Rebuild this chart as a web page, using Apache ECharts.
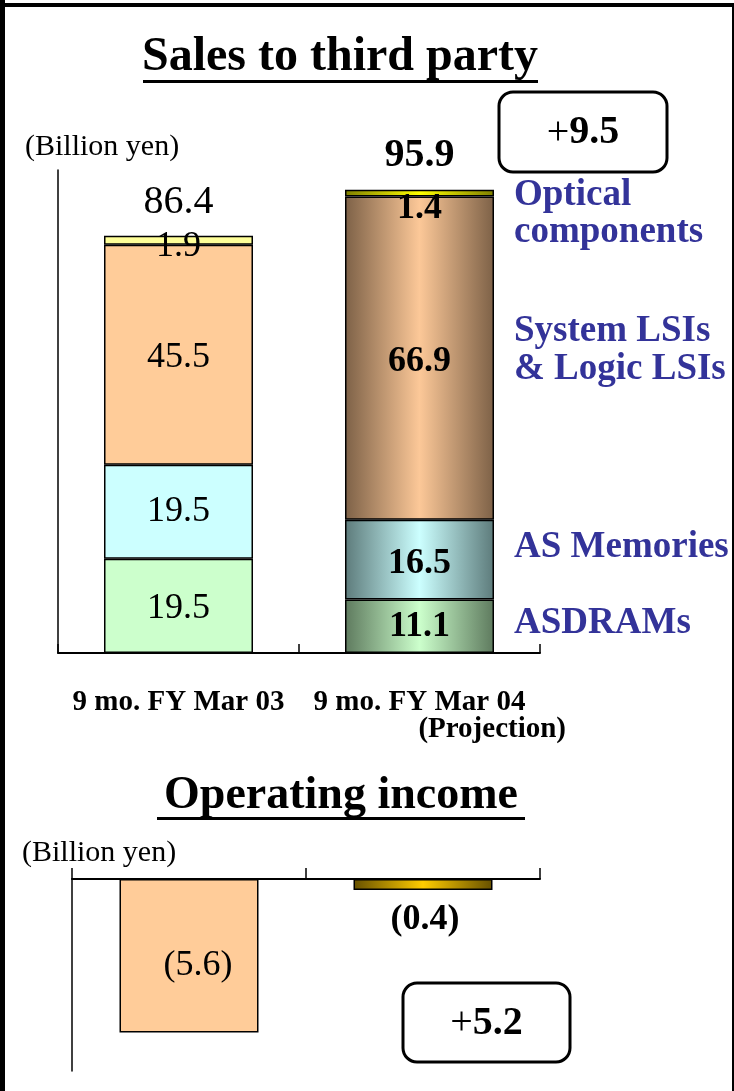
<!DOCTYPE html>
<html>
<head>
<meta charset="utf-8"/>
<title>Sales to third party</title>
<script src="https://cdn.jsdelivr.net/npm/echarts@6/dist/echarts.min.js"></script>
<style>
  body { margin: 0; background: #fff; }
  #main { width: 734px; height: 1091px; }
</style>
</head>
<body>
<div id="main"></div>
<script>
// 数据
var categories = ['9 mo. FY Mar 03', '9 mo. FY Mar 04'];
var asdrams    = [19.5, 11.1];
var asMemories = [19.5, 16.5];
var systemLsis = [45.5, 66.9];
var optical    = [1.9, 1.4];
var totals     = [86.4, 95.9];
var salesChange = '9.5';

var incomeCats = ['9 mo. FY Mar 03', '9 mo. FY Mar 04'];
var income     = [-5.6, -0.4];
var incomeChange = '5.2';

var FONT = 'Liberation Serif';

// 第二根柱子用横向渐变
function grad(dark, light) {
  return {
    type: 'linear', x: 0, y: 0, x2: 1, y2: 0,
    colorStops: [
      {offset: 0, color: dark},
      {offset: 0.5, color: light},
      {offset: 1, color: dark}
    ]
  };
}

function stackData(vals, flat, dark, light, lblOffsets) {
  return vals.map(function (v, i) {
    var item = {
      value: v,
      itemStyle: {color: i === 0 ? flat : grad(dark, light)},
      label: {fontWeight: i === 0 ? 'normal' : 'bold'}
    };
    if (lblOffsets) item.label.offset = lblOffsets[i];
    return item;
  });
}

var barLabel = {
  show: true, position: 'inside', color: '#000',
  fontFamily: FONT, fontSize: 36
};

// 圆角框里的 "+x.x"，加号不加粗
function changeBox(x, y, w, h, txt) {
  return [
    {type: 'rect', shape: {x: x, y: y, width: w, height: h, r: 14},
      style: {fill: '#fff', stroke: '#000', lineWidth: 3}},
    {type: 'text', x: x + w / 2, y: y + h / 2 + 1, style: {
      text: '{p|+}{n|' + txt + '}', textAlign: 'center', textVerticalAlign: 'middle',
      rich: {
        p: {fontFamily: FONT, fontSize: 40, fill: '#000'},
        n: {fontFamily: FONT, fontSize: 40, fontWeight: 'bold', fill: '#000'}
      }
    }}
  ];
}

var myChart = echarts.init(document.getElementById('main'));

var option = {
  backgroundColor: '#fff',
  animation: false,
  grid: [
    {left: 58, top: 170, width: 482, height: 483},
    {left: 72, top: 879, width: 468, height: 192}
  ],
  xAxis: [
    {
      type: 'category', gridIndex: 0, data: categories,
      axisLine: {lineStyle: {color: '#000', width: 2}},
      axisTick: {show: true, interval: 0, inside: true, length: 9,
        lineStyle: {color: '#000', width: 1.5}},
      axisLabel: {
        interval: 0, margin: 35, color: '#000',
        fontFamily: FONT, fontWeight: 'bold', fontSize: 29
      }
    },
    {
      type: 'category', gridIndex: 1, data: incomeCats, position: 'top',
      axisLine: {onZero: false, lineStyle: {color: '#000', width: 2}},
      axisTick: {show: true, interval: 0, length: 11,
        lineStyle: {color: '#000', width: 1.5}},
      axisLabel: {show: false}
    }
  ],
  yAxis: [
    {
      type: 'value', gridIndex: 0, min: 0, max: 100,
      axisLine: {show: true, lineStyle: {color: '#000', width: 1.5}},
      axisTick: {show: false}, axisLabel: {show: false}, splitLine: {show: false}
    },
    {
      type: 'value', gridIndex: 1, min: -7, max: 0,
      axisLine: {show: true, lineStyle: {color: '#000', width: 1.5}},
      axisTick: {show: false}, axisLabel: {show: false}, splitLine: {show: false}
    }
  ],
  series: [
    {
      name: 'ASDRAMs', type: 'bar', stack: 'sales', barWidth: 149,
      itemStyle: {borderColor: '#000', borderWidth: 1.5},
      label: barLabel,
      data: stackData(asdrams, '#ccffcc', '#5e7a5e', '#ccffcc', [[0, 3], [0, 1]])
    },
    {
      name: 'AS Memories', type: 'bar', stack: 'sales', barWidth: 149,
      itemStyle: {borderColor: '#000', borderWidth: 1.5},
      label: barLabel,
      data: stackData(asMemories, '#ccffff', '#5d7b7b', '#ccffff', [[0, 0], [0, 4]])
    },
    {
      name: 'System LSIs & Logic LSIs', type: 'bar', stack: 'sales', barWidth: 149,
      itemStyle: {borderColor: '#000', borderWidth: 1.5},
      label: barLabel,
      data: stackData(systemLsis, '#ffcc99', '#7d6147', '#fcc898', [[0, 3], [0, 4]])
    },
    {
      name: 'Optical components', type: 'bar', stack: 'sales', barWidth: 149,
      itemStyle: {borderColor: '#000', borderWidth: 1.5},
      label: barLabel,
      data: stackData(optical, '#ffff99', '#7f7f00', '#ffff00', [[0, 6], [0, 16]])
    },
    {
      // 合计
      type: 'scatter', xAxisIndex: 0, yAxisIndex: 0,
      symbolSize: 1, itemStyle: {color: 'rgba(0,0,0,0)', opacity: 1},
      label: {show: true, position: 'inside', color: '#000', fontFamily: FONT,
        formatter: function (p) { return p.value[1].toFixed(1); }},
      data: totals.map(function (v, i) {
        return {
          value: [i, v],
          label: i === 0
            ? {fontSize: 40, fontWeight: 'normal', offset: [0, -33]}
            : {fontSize: 40, fontWeight: 'bold', offset: [0, -34]}
        };
      })
    },
    {
      name: 'Operating income', type: 'bar', xAxisIndex: 1, yAxisIndex: 1,
      barWidth: 139,
      itemStyle: {borderColor: '#000', borderWidth: 1.5},
      label: {
        show: true, position: 'inside', color: '#000',
        fontFamily: FONT, fontSize: 36,
        formatter: function (p) { return '(' + Math.abs(p.value).toFixed(1) + ')'; }
      },
      data: income.map(function (v, i) {
        return {
          value: v,
          itemStyle: {color: i === 0 ? '#ffcc99' : grad('#665000', '#ffcc00')},
          label: i === 0
            ? {offset: [9, 10], fontWeight: 'normal'}
            : {offset: [2, 35], fontWeight: 'bold'}
        };
      })
    }
  ],
  graphic: [
    // 外框
    {type: 'rect', left: 0, top: 0, shape: {width: 5, height: 1091}, style: {fill: '#000'}},
    {type: 'rect', left: 0, top: 3, shape: {width: 734, height: 4}, style: {fill: '#000'}},
    {type: 'rect', left: 732, top: 3, shape: {width: 2, height: 1088}, style: {fill: '#000'}},

    // 标题
    {type: 'text', x: 340, y: 58, style: {text: 'Sales to third party', fill: '#000',
      font: 'bold 48px "' + FONT + '"', textAlign: 'center', textVerticalAlign: 'middle'}},
    {type: 'rect', shape: {x: 143, y: 80, width: 395, height: 3}, style: {fill: '#000'}},
    {type: 'text', x: 25, y: 147, style: {text: '(Billion yen)', fill: '#000',
      font: '30px "' + FONT + '"', textVerticalAlign: 'middle'}},

    // 右侧系列名
    {type: 'text', x: 514, y: 214, style: {text: 'Optical\ncomponents', fill: '#333399',
      font: 'bold 37px "' + FONT + '"', lineHeight: 37, textVerticalAlign: 'middle'}},
    {type: 'text', x: 514, y: 350, style: {text: 'System LSIs\n& Logic LSIs', fill: '#333399',
      font: 'bold 37px "' + FONT + '"', lineHeight: 38, textVerticalAlign: 'middle'}},
    {type: 'text', x: 514, y: 547, style: {text: 'AS Memories', fill: '#333399',
      font: 'bold 37px "' + FONT + '"', textVerticalAlign: 'middle'}},
    {type: 'text', x: 514, y: 623, style: {text: 'ASDRAMs', fill: '#333399',
      font: 'bold 37px "' + FONT + '"', textVerticalAlign: 'middle'}},

    {type: 'text', x: 566, y: 730, style: {text: '(Projection)', fill: '#000',
      font: 'bold 29px "' + FONT + '"', textAlign: 'right', textVerticalAlign: 'middle'}},

    // 营业利润
    {type: 'text', x: 341, y: 796, style: {text: 'Operating income', fill: '#000',
      font: 'bold 46px "' + FONT + '"', textAlign: 'center', textVerticalAlign: 'middle'}},
    {type: 'rect', shape: {x: 157, y: 817, width: 368, height: 3}, style: {fill: '#000'}},
    {type: 'text', x: 22, y: 853, style: {text: '(Billion yen)', fill: '#000',
      font: '30px "' + FONT + '"', textVerticalAlign: 'middle'}}
  ].concat(changeBox(499, 92, 168, 80, salesChange))
   .concat(changeBox(403, 983, 167, 79, incomeChange))
};

myChart.setOption(option);
</script>
</body>
</html>
